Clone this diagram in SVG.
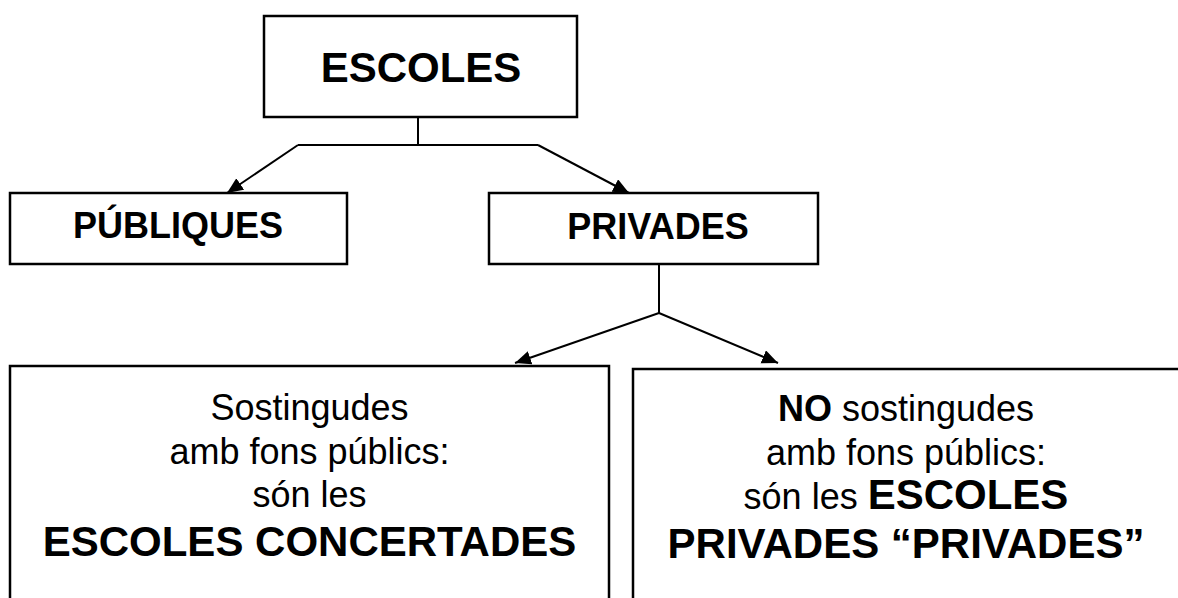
<svg xmlns="http://www.w3.org/2000/svg" width="1178" height="598" viewBox="0 0 1178 598">
<style>
  .box { fill: #ffffff; stroke: #000000; stroke-width: 2.5; }
  .conn { fill: none; stroke: #000000; stroke-width: 2; }
  .t { font-family: "Liberation Sans", Arial, sans-serif; fill: #000000; text-anchor: middle; }
  .b { font-weight: bold; }
  .r { font-size: 36px; }
  .h { font-size: 42px; font-weight: bold; }
  .m { font-size: 36px; font-weight: bold; }
</style>
<defs>
  <marker id="arrow" markerWidth="18" markerHeight="16" refX="16" refY="7" orient="auto" markerUnits="userSpaceOnUse">
    <path d="M0,0 L16,7 L0,14 z" fill="#000000"/>
  </marker>
</defs>
<rect width="1178" height="598" fill="#ffffff"/>
<g id="connectors">
  <path class="conn" d="M418,118 V145 M298,145 H538"/>
  <path class="conn" d="M298,145 L227,193" marker-end="url(#arrow)"/>
  <path class="conn" d="M538,145 L629,193" marker-end="url(#arrow)"/>
  <path class="conn" d="M659,265 V313"/>
  <path class="conn" d="M659,313 L515,363" marker-end="url(#arrow)"/>
  <path class="conn" d="M659,313 L778,363" marker-end="url(#arrow)"/>
</g>
<g id="node-escoles">
  <rect class="box" x="264" y="16" width="313" height="101" stroke-width="3"/>
  <text class="t h" x="421" y="82">ESCOLES</text>
</g>
<g id="node-publiques">
  <rect class="box" x="10" y="193" width="337" height="71"/>
  <text class="t m" x="178" y="238">PÚBLIQUES</text>
</g>
<g id="node-privades">
  <rect class="box" x="489" y="193" width="329" height="71"/>
  <text class="t m" x="658" y="239">PRIVADES</text>
</g>
<g id="node-concertades">
  <rect class="box" x="10" y="366" width="599" height="300"/>
  <text class="t r" x="309.5" y="420">Sostingudes</text>
  <text class="t r" x="309.5" y="464">amb fons públics:</text>
  <text class="t r" x="309.5" y="507">són les</text>
  <text class="t h" x="309.5" y="556">ESCOLES CONCERTADES</text>
</g>
<g id="node-privades-privades">
  <rect class="box" x="633" y="369" width="600" height="300"/>
  <text class="t r" x="906" y="421"><tspan class="b">NO</tspan> sostingudes</text>
  <text class="t r" x="906" y="465">amb fons públics:</text>
  <text class="t r" x="906" y="509">són les <tspan class="b" font-size="42">ESCOLES</tspan></text>
  <text class="t h" x="906" y="558">PRIVADES “PRIVADES”</text>
</g>
</svg>
